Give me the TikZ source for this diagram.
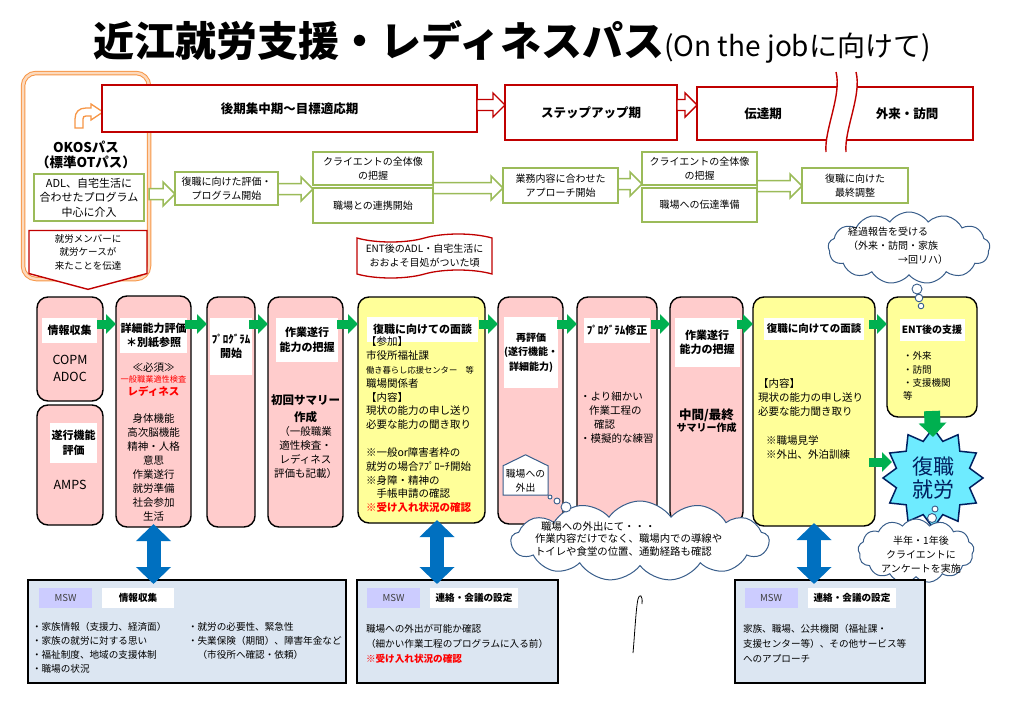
\documentclass[tikz,border=0pt]{standalone}
\usepackage{fontspec}
\setmainfont{Noto Sans CJK JP}
\usetikzlibrary{arrows.meta,shapes.symbols,shapes.geometric,calc}

\definecolor{pinkfill}{RGB}{255,204,204}
\definecolor{yelfill}{RGB}{255,255,153}
\definecolor{phasered}{RGB}{192,0,0}
\definecolor{olivegrn}{RGB}{155,187,89}
\definecolor{arrgreen}{RGB}{0,176,80}
\definecolor{arrblue}{RGB}{0,112,192}
\definecolor{mswfill}{RGB}{204,204,255}
\definecolor{bottomfill}{RGB}{220,230,242}
\definecolor{okosorange}{RGB}{247,150,70}
\definecolor{cloudline}{RGB}{56,93,138}
\definecolor{starfill}{RGB}{110,235,255}
\definecolor{starline}{RGB}{0,32,96}
\definecolor{txtred}{RGB}{255,0,0}

\newcommand\fsA{\fontsize{10}{14}\selectfont}
\newcommand\fsB{\fontsize{10.5}{13.8}\selectfont}
\newcommand\fsC{\fontsize{9.6}{14}\selectfont}
\newcommand\fsS{\fontsize{8.3}{13.8}\selectfont}
\newcommand\fsL{\fontsize{11}{14.5}\selectfont}
\newcommand\fsP{\fontsize{12.5}{15}\selectfont}

% hollow block arrow between two points on one level
\newcommand\hollowarrow[3]{%
  \path[#1] let \p1=(#2), \p2=(#3) in
    (\x1,{\y1+5.5pt}) -- ({\x2-12pt},{\y1+5.5pt}) -- ({\x2-12pt},{\y1+12pt})
    -- (\x2,\y1) -- ({\x2-12pt},{\y1-12pt}) -- ({\x2-12pt},{\y1-5.5pt})
    -- (\x1,{\y1-5.5pt}) -- cycle;}

\begin{document}
\begin{tikzpicture}[x=1pt,y=-1pt,
  every node/.style={inner sep=0pt,outer sep=0pt},
  col/.style={draw=black,line width=1.4pt,rounded corners=11pt},
  pinkcol/.style={col,fill=pinkfill},
  yelcol/.style={col,fill=yelfill},
  lbl/.style={fill=white,font=\bfseries\fsL,align=center},
  phasebox/.style={draw=phasered,line width=1.6pt,fill=white,font=\bfseries\fsP},
  gbox/.style={draw=olivegrn,line width=1.5pt,fill=white,font=\fsA,align=center},
  grnarr/.style={draw=olivegrn,line width=1.5pt,fill=white},
  redarr/.style={draw=phasered,line width=1.4pt,fill=white},
  garr/.style={arrgreen,line width=9pt,-{Triangle[length=10pt,width=19pt]},
    shorten <=-6pt},
  gdown/.style={arrgreen,line width=16pt,-{Triangle[length=14pt,width=27pt]}},
  bluearr/.style={arrblue,line width=14pt,
    {Triangle[length=17pt,width=34pt]}-{Triangle[length=17pt,width=34pt]},
    shorten <=-3pt,shorten >=-4pt},
  mswbox/.style={draw=black,line width=1.5pt,fill=bottomfill},
  mswtag/.style={fill=mswfill,minimum width=53,minimum height=20,
    font=\fsC,text=black!75},
  mswlbl/.style={fill=white,minimum height=20,font=\bfseries\fsC},
  thought/.style={cloud,cloud puffs=13,cloud puff arc=110,draw=cloudline,
    line width=1pt,fill=white},
  bubble/.style={draw=cloudline,line width=0.9pt,fill=white},
  body/.style={align=left,anchor=north west}]

\useasboundingbox (0,0) rectangle (1024,725);

% title
\node (title) at (512,42) {\bfseries\fontsize{41}{41}\selectfont 近江就労支援・レディネスパス\mdseries\fontsize{28}{28}\selectfont (On the jobに向けて)};

% OKOS pass
\node[draw=okosorange,double=okosorange!35,double distance=2.5pt,line width=1pt,
  rounded corners=13pt,fill=white,minimum width=126,minimum height=206] (okos) at (86,176) {};
\draw[okosorange,line width=1.3pt,fill=white] (75,128) -- (75,119)
  .. controls (75,112) and (79,108) .. (86,108) -- (91,108) -- (91,104) -- (103,112)
  -- (91,120) -- (91,116) -- (86,116) .. controls (84,116) and (83,117) .. (83,119)
  -- (83,128) -- cycle;
\node[font=\bfseries\fontsize{13.5}{15.5}\selectfont,align=center] (okosname) at (86,155) {OKOSパス\\（標準OTパス）};
\node[gbox,font=\fontsize{11}{14.5}\selectfont,minimum width=110,minimum height=47] (adl) at (89,197.5)
  {ADL、自宅生活に\\合わせたプログラム\\中心に介入};
\node[signal,signal to=south,signal pointer angle=150,draw=phasered,line width=1.4pt,
  fill=white,minimum width=118,minimum height=52,font=\fontsize{9.5}{13.5}\selectfont,
  align=center] (tell) at (88,252) {就労メンバーに\\就労ケースが\\来たことを伝達};

% phases
\node[phasebox,minimum width=375,minimum height=47] (p1) at (289.5,108.5) {後期集中期～目標適応期};
\node[phasebox,minimum width=172,minimum height=55] (p2) at (591,112.5) {ステップアップ期};
\draw[phasered,line width=1.6pt] (697,87) rectangle (973,140);
\node[font=\bfseries\fsP] (p3) at (763,114) {伝達期};
\node[font=\bfseries\fsP] (p4) at (907,114) {外来・訪問};
\fill[white] (836,72) .. controls (842,95) and (824,130) .. (826,152) -- (846,152)
  .. controls (844,130) and (862,95) .. (856,72) -- cycle;
\draw[phasered,line width=1.4pt] (836,72) .. controls (842,95) and (824,130) .. (826,152);
\draw[phasered,line width=1.4pt] (856,72) .. controls (862,95) and (844,130) .. (846,152);
\hollowarrow{redarr}{p1.east |- 0,105}{p2.west |- 0,105}
\hollowarrow{redarr}{p2.east |- 0,105}{697,105}

% second row
\node[gbox,minimum width=103,minimum height=33] (boxA) at (226.5,188.5) {復職に向けた評価・\\プログラム開始};
\node[gbox,minimum width=120,minimum height=33] (btop) at (373,168.5) {クライエントの全体像\\の把握};
\node[gbox,minimum width=120,minimum height=35] (bbot) at (373,205.5) {職場との連携開始};
\node[gbox,minimum width=115,minimum height=35] (boxC) at (560.5,185.5) {業務内容に合わせた\\アプローチ開始};
\node[gbox,minimum width=115,minimum height=33] (dtop) at (699.5,168.5) {クライエントの全体像\\の把握};
\node[gbox,minimum width=115,minimum height=34] (dbot) at (699.5,205) {職場への伝達準備};
\node[gbox,minimum width=106,minimum height=35] (boxE) at (855,185.5) {復職に向けた\\最終調整};
\hollowarrow{grnarr}{okos.east |- 0,194}{boxA.west |- 0,194}
\hollowarrow{grnarr}{boxA.east |- 0,189}{btop.west |- 0,189}
\hollowarrow{grnarr}{btop.east |- 0,188}{boxC.west |- 0,188}
\hollowarrow{grnarr}{boxC.east |- 0,184}{dtop.west |- 0,184}
\hollowarrow{grnarr}{dtop.east |- 0,186}{boxE.west |- 0,186}

\node[tape,draw=phasered,line width=1.3pt,fill=white,minimum width=135,minimum height=44,
  tape bend top=in and out,tape bend bottom=in and out,tape bend height=8,
  font=\fsA,align=center] (ent) at (424.5,256) {ENT後のADL・自宅生活に\\おおよそ目処がついた頃};

% columns
\node[pinkcol,minimum width=66,minimum height=104] (c1a) at (70,349) {};
\node[pinkcol,minimum width=66,minimum height=120] (c1b) at (70,465) {};
\node[pinkcol,minimum width=75,minimum height=231] (c2) at (153.5,411.5) {};
\node[pinkcol,minimum width=48,minimum height=230] (c3) at (231,412) {};
\node[pinkcol,minimum width=75,minimum height=230] (c4) at (305.5,412) {};
\node[yelcol,minimum width=127,minimum height=226] (c5) at (421.5,410) {};
\node[pinkcol,minimum width=65,minimum height=227] (c6) at (530.5,410.5) {};
\node[pinkcol,minimum width=80,minimum height=227] (c7) at (617,410.5) {};
\node[pinkcol,minimum width=73,minimum height=226] (c8) at (706.5,410) {};
\node[yelcol,minimum width=122,minimum height=229] (c9) at (814,411.5) {};
\node[yelcol,minimum width=90,minimum height=120] (c10) at (932,357) {};

\node[lbl,minimum width=55,minimum height=25] (l1a) at (69.5,330.5) {情報収集};
\node[font=\fontsize{12.5}{17}\selectfont,align=center] (t1a) at (70,368.5) {COPM\\ADOC};
\node[lbl,minimum width=47,minimum height=40] (l1b) at (73.5,443) {遂行機能\\評価};
\node[font=\fontsize{12.5}{17}\selectfont] (t1b) at (70,485) {AMPS};

\node[lbl,minimum width=67,minimum height=35] (l2) at (153.5,335.5) {詳細能力評価\\＊別紙参照};
\node[font=\fsB] (t2a) at (153.5,368) {≪必須≫};
\node[font=\fontsize{8.2}{10}\selectfont,text=txtred] (t2b) at (153.5,379) {一般職業適性検査};
\node[font=\bfseries\fsB,text=txtred] (t2c) at (153.5,391) {レディネス};
\node[font=\fontsize{10.5}{14.1}\selectfont,align=center] (t2d) at (153.5,467.5)
  {身体機能\\高次脳機能\\精神・人格\\意思\\作業遂行\\就労準備\\社会参加\\生活};

\node[lbl,minimum width=42,minimum height=57] (l3) at (231,346.5) {ﾌﾟﾛｸﾞﾗﾑ\\開始};

\node[lbl,minimum width=62,minimum height=44] (l4) at (307,340) {作業遂行\\能力の把握};
\node[font=\bfseries\fontsize{11.5}{17}\selectfont,align=center] (t4a) at (305.5,408.5) {初回サマリー\\作成};
\node[font=\fontsize{10.5}{13.7}\selectfont,align=center] (t4b) at (305.5,452.5)
  {（一般職業\\適性検査・\\レディネス\\評価も記載）};

\node[lbl,minimum width=111,minimum height=25] (l5) at (422.5,329.5) {復職に向けての面談};
\node[body,font=\fsB] (t5) at (366,337) {【参加】\\市役所福祉課\\{\fsS 働き暮らし応援センター　等}\\職場関係者\\【内容】\\現状の能力の申し送り\\必要な能力の聞き取り\\[14pt]※一般or障害者枠の\\就労の場合ｱﾌﾟﾛｰﾁ開始\\※身障・精神の\\　手帳申請の確認\\\textcolor{txtred}{\bfseries ※受け入れ状況の確認}};

\node[lbl,font=\bfseries\fontsize{10}{14.5}\selectfont,minimum width=54,minimum height=71] (l6) at (531,352.5) {再評価\\(遂行機能・\\詳細能力)};
\node[signal,signal to=north,signal pointer angle=128,draw=cloudline,line width=1pt,
  fill=white,minimum width=45,minimum height=39,font=\fontsize{9.8}{14}\selectfont,
  align=center] (outing) at (525.5,480.5) {職場への\\外出};

\node[lbl,minimum width=66,minimum height=25] (l7) at (617,330) {ﾌﾟﾛｸﾞﾗﾑ修正};
\node[body,font=\fontsize{10.5}{14}\selectfont] (t7) at (580,392) {・より細かい\\\hspace{9pt}作業工程の\\\hspace{14pt}確認\\・模擬的な練習};

\node[lbl,minimum width=65,minimum height=49] (l8) at (707,342.5) {作業遂行\\能力の把握};
\node[font=\bfseries,align=center] (t8) at (706.5,420.5) {{\fontsize{12.5}{15}\selectfont 中間/最終}\\{\fontsize{10}{15}\selectfont サマリー作成}};

\node[lbl,font=\bfseries\fontsize{10.5}{14}\selectfont,minimum width=100,minimum height=22] (l9) at (814,329) {復職に向けての面談};
\node[body,font=\fsB] (t9a) at (758,379) {【内容】\\現状の能力の申し送り\\必要な能力聞き取り};
\node[body,font=\fsB] (t9b) at (766,436) {※職場見学\\※外出、外泊訓練};

\node[lbl,font=\bfseries\fontsize{10}{14}\selectfont,minimum width=65,minimum height=22] (l10) at (932,330) {ENT後の支援};
\node[body,font=\fontsize{9.5}{13.3}\selectfont] (t10) at (903,352) {・外来\\・訪問\\・支援機関\\等};

% flow between columns
\foreach \a/\b in {c1a/c2,c2/c3,c3/c4,c4/c5,c5/c6,c6/c7,c7/c8,c8/c9,c9/c10}
  \draw[garr] (\a.east |- 0,324) -- (\b.west |- 0,324);

% goal
\node[star,star points=12,star point ratio=1.32,minimum size=100,draw=starline,
  line width=1.5pt,fill=starfill,text=starline,align=center,
  font=\fontsize{21}{23}\selectfont] (goal) at (933,478) {復職\\就労};
\draw[gdown] ($(c10.south)+(0,-6)$) -- ($(goal.north)+(0,9)$);
\draw[garr,shorten >=-9pt] (c9.east |- 0,462) -- (goal.west |- 0,462);

% thoughts
\node[thought,aspect=2.4,minimum width=162,minimum height=72] (report) at (909,248) {};
\node[body,font=\fsA] (reporttxt) at (848,227) {経過報告を受ける\\（外来・訪問・家族\\\hspace{50pt}→回リハ）};
\draw[bubble] (917,289) circle (5pt) (919,298) circle (3.8pt) (921,306) circle (2.8pt);

\node[thought,aspect=3.4,minimum width=258,minimum height=80] (visit) at (640,541) {};
\node[body,font=\fontsize{10.4}{12.2}\selectfont] (visittxt) at (535,522)
  {\hspace{6pt}職場への外出にて・・・\\作業内容だけでなく、職場内での導線や\\トイレや食堂の位置、通勤経路も確認};
\draw[bubble] (550,497) circle (2pt) (557,501) circle (3pt) (566,507) circle (5pt);

\node[thought,aspect=1.9,minimum width=116,minimum height=64] (survey) at (916,551) {};
\node[font=\fsA,align=center] (surveytxt) at (921,555) {半年・1年後\\クライエントに\\アンケートを実施};
\draw[bubble] (935,509) circle (3pt) (932,518) circle (4.5pt);

% MSW boxes
\node[mswbox,minimum width=318,minimum height=103] (lb) at (187,631.5) {};
\node[mswtag] (lmsw) at (65.5,598) {MSW};
\node[mswlbl,minimum width=72] (llbl) at (138,598) {情報収集};
\node[body,font=\fsC] (ltxt1) at (32,622) {・家族情報（支援力、経済面）\\・家族の就労に対する思い\\・福祉制度、地域の支援体制\\・職場の状況};
\node[body,font=\fsC] (ltxt2) at (188,622) {・就労の必要性、緊急性\\・失業保険（期間）、障害年金など\\　（市役所へ確認・依頼）};

\node[mswbox,minimum width=201,minimum height=103] (mb) at (457.5,631.5) {};
\node[mswtag] (mmsw) at (393.5,598) {MSW};
\node[mswlbl,minimum width=88] (mlbl) at (474,598) {連絡・会議の設定};
\node[body,font=\fontsize{9.6}{15}\selectfont] (mtxt) at (366,624) {職場への外出が可能か確認\\（細かい作業工程のプログラムに入る前）\\\textcolor{txtred}{\bfseries ※受け入れ状況の確認}};

\node[mswbox,minimum width=190,minimum height=103] (rb) at (830,631.5) {};
\node[mswtag] (rmsw) at (771,598) {MSW};
\node[mswlbl,minimum width=88] (rlbl) at (852,598) {連絡・会議の設定};
\node[body,font=\fontsize{9.6}{15}\selectfont] (rtxt) at (743,624) {家族、職場、公共機関（福祉課・\\支援センター等）、その他サービス等\\へのアプローチ};

\coordinate (mid) at (437,0);
\draw[bluearr] (c2.south) -- (lb.north -| c2.south);
\draw[bluearr] (c5.south -| mid) -- (mb.north -| mid);
\draw[bluearr] (c9.south) -- (rb.north -| c9.south);

\draw[line width=0.8pt] (633,653) .. controls (635,630) and (636,608) .. (638,599)
  .. controls (639,594) and (643,594) .. (642,604);
\end{tikzpicture}
\end{document}
